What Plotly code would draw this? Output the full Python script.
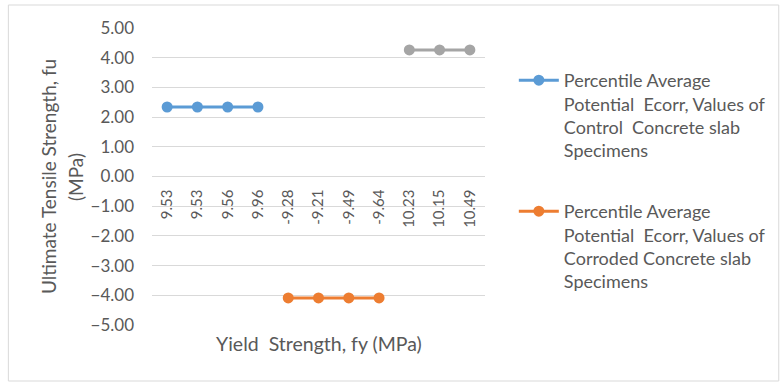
import plotly.graph_objects as go

# Category labels along the yield-strength axis (fy, MPa)
categories = ["9.53", "9.53", "9.56", "9.96", "-9.28", "-9.21", "-9.49",
              "-9.64", "10.23", "10.15", "10.49"]

# Ultimate tensile strength values (fu, MPa) for each series
control_idx = [0, 1, 2, 3]
control_fu = [2.34, 2.34, 2.34, 2.34]

corroded_idx = [4, 5, 6, 7]
corroded_fu = [-4.09, -4.09, -4.09, -4.09]

extra_idx = [8, 9, 10]
extra_fu = [4.26, 4.26, 4.26]

y_ticks = [5, 4, 3, 2, 1, 0, -1, -2, -3, -4, -5]

control_name = ("Percentile Average<br>Potential  Ecorr, Values of<br>"
                "Control  Concrete slab<br>Specimens")
corroded_name = ("Percentile Average<br>Potential  Ecorr, Values of<br>"
                 "Corroded Concrete slab<br>Specimens")

TEXT = "#595959"
GRID = "#D9D9D9"
FONT = "Lato"

W, H = 783, 382
L, R, T, B = 152, 487, 28, 325


def px(x):
    return (x - L) / (R - L)


def py(y):
    return (B - y) / (B - T)


fig = go.Figure()

fig.add_trace(go.Scatter(
    x=control_idx, y=control_fu, mode="lines+markers", name=control_name,
    line=dict(color="#5B9BD5", width=3), marker=dict(size=11, color="#5B9BD5"),
    legend="legend"))
fig.add_trace(go.Scatter(
    x=corroded_idx, y=corroded_fu, mode="lines+markers", name=corroded_name,
    line=dict(color="#ED7D31", width=3), marker=dict(size=11, color="#ED7D31"),
    legend="legend2"))
fig.add_trace(go.Scatter(
    x=extra_idx, y=extra_fu, mode="lines+markers", showlegend=False,
    line=dict(color="#A5A5A5", width=3), marker=dict(size=11, color="#A5A5A5")))

legend_common = dict(
    xanchor="left", yanchor="top", valign="top",
    font=dict(family=FONT, size=18, color=TEXT),
    bgcolor="rgba(0,0,0,0)", itemwidth=40,
)

fig.update_layout(
    width=W, height=H,
    margin=dict(l=L, r=W - R, t=T, b=H - B),
    paper_bgcolor="white", plot_bgcolor="white",
    font=dict(family=FONT, color=TEXT),
    xaxis=dict(
        range=[-0.5, len(categories) - 0.5],
        tickmode="array", tickvals=list(range(len(categories))),
        ticktext=categories, tickangle=-90,
        anchor="free", position=0.5,
        showgrid=False, zeroline=False, showline=False, ticks="",
        ticklabelstandoff=9,
        tickfont=dict(family=FONT, size=15, color=TEXT),
    ),
    yaxis=dict(
        range=[-5, 5], tickmode="array", tickvals=y_ticks,
        tickformat=".2f", showgrid=True, gridcolor=GRID, gridwidth=1,
        zeroline=False, showline=False, ticks="",
        ticklabelstandoff=17,
        tickfont=dict(family=FONT, size=17, color=TEXT),
    ),
    legend=dict(x=px(516), y=py(62), **legend_common),
    legend2=dict(x=px(516), y=py(193), **legend_common),
    showlegend=True,
)

# axis titles
fig.add_annotation(text="Ultimate Tensile Strength, fu", xref="paper", yref="paper",
                   x=px(48), y=0.5, xanchor="center", yanchor="middle",
                   textangle=-90, showarrow=False,
                   font=dict(family=FONT, size=19, color=TEXT))
fig.add_annotation(text="(MPa)", xref="paper", yref="paper",
                   x=px(75), y=0.5, xanchor="center", yanchor="middle",
                   textangle=-90, showarrow=False,
                   font=dict(family=FONT, size=19, color=TEXT))
fig.add_annotation(text="Yield  Strength, fy (MPa)", xref="paper", yref="paper",
                   x=0.5, y=py(343), xanchor="center", yanchor="middle",
                   showarrow=False,
                   font=dict(family=FONT, size=19.5, color=TEXT))

# chart border
fig.add_shape(type="rect", xref="paper", yref="paper",
              x0=px(7.5), x1=px(782.5), y0=py(381), y1=py(5),
              line=dict(color=GRID, width=1), fillcolor="rgba(0,0,0,0)",
              layer="below")

fig.write_html("out.html")
